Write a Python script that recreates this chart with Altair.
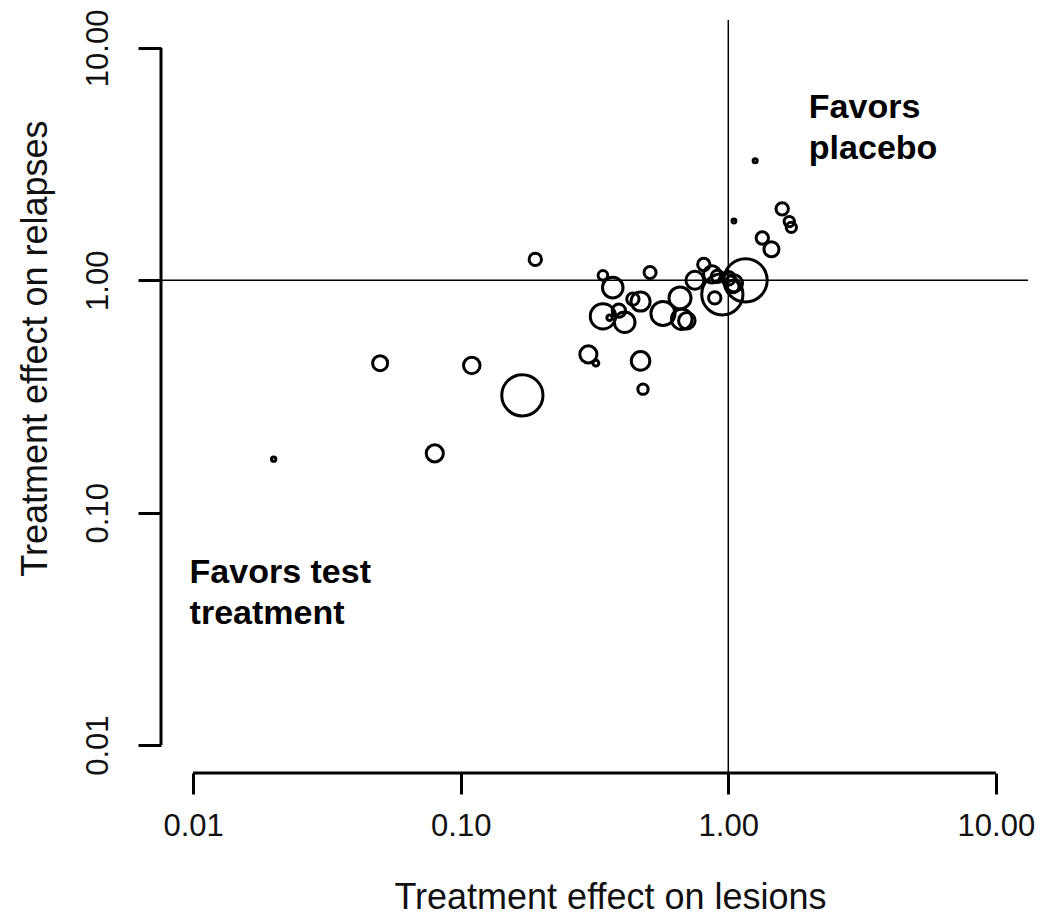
import altair as alt
import pandas as pd

# Treatment effect on lesions (x) and on relapses (y), per trial arm
lesions = [1.59, 1.69, 1.72, 1.05, 1.26, 1.34, 1.45, 0.34, 0.37, 0.51,
           0.81, 0.75, 0.87, 0.91, 1.00, 1.05, 1.04, 1.16, 0.95, 0.89,
           0.44, 0.47, 0.34, 0.36, 0.39, 0.41, 0.66, 0.57, 0.67, 0.70,
           0.30, 0.32, 0.47, 0.48, 0.19, 0.050, 0.11, 0.17, 0.080, 0.020]
relapses = [2.03, 1.79, 1.69, 1.80, 3.27, 1.52, 1.36, 1.05, 0.93, 1.08,
            1.17, 1.00, 1.06, 1.04, 1.02, 0.97, 0.94, 1.00, 0.87, 0.84,
            0.83, 0.81, 0.70, 0.69, 0.74, 0.66, 0.84, 0.72, 0.68, 0.67,
            0.48, 0.44, 0.45, 0.34, 1.23, 0.44, 0.43, 0.32, 0.18, 0.17]
weight = [360, 250, 250, 35, 40, 360, 530, 220, 1000, 340,
          360, 760, 690, 360, 450, 690, 360, 4410, 4000, 360,
          360, 860, 1510, 70, 420, 1000, 1140, 1370, 1000, 640,
          690, 80, 810, 250, 360, 530, 640, 4000, 690, 45]

tick_values = [0.01, 0.1, 1, 10]
ref_value = [1]

notes_text = ["Favors\nplacebo", "Favors test\ntreatment"]
notes_x = [2.0, 0.0097]
notes_y = [5.0, 0.05]

df = pd.DataFrame({"lesions": lesions, "relapses": relapses, "weight": weight})
ref = pd.DataFrame({"v": ref_value})
notes = pd.DataFrame({"label": notes_text, "x": notes_x, "y": notes_y})

FONT = "Liberation Sans"
W, H = 867, 753
dom = [10 ** -2.12, 10 ** 1.12]

xscale = alt.Scale(type="log", domain=dom, nice=False)
yscale = alt.Scale(type="log", domain=dom, nice=False)

xaxis = alt.Axis(values=tick_values, format=".2f", domain=False, grid=False,
                 tickSize=21, tickWidth=3, tickColor="black",
                 labelFont=FONT, labelFontSize=31, labelColor="#111111",
                 labelPadding=17, labelFlush=False, labelOverlap=False,
                 title="Treatment effect on lesions", titleFont=FONT,
                 titleFontSize=36, titleFontWeight="normal", titleColor="#111111",
                 titleX=449, titleY=124, titleAlign="center", titleBaseline="middle")
yaxis = alt.Axis(values=tick_values, format=".2f", domain=False, grid=False,
                 tickSize=23, tickWidth=3, tickColor="black",
                 labelFont=FONT, labelFontSize=31, labelColor="#111111",
                 labelAngle=270, labelAlign="center", labelBaseline="bottom",
                 labelPadding=24, labelFlush=False, labelOverlap=False,
                 title="Treatment effect on relapses", titleFont=FONT,
                 titleFontSize=36, titleFontWeight="normal", titleColor="#111111",
                 titleAngle=270, titleX=-126, titleY=328, titleAlign="center",
                 titleBaseline="middle")

points = alt.Chart(df).mark_point(
    shape="circle", filled=False, stroke="black", strokeWidth=3, opacity=1
).encode(
    x=alt.X("lesions:Q", scale=xscale, axis=xaxis),
    y=alt.Y("relapses:Q", scale=yscale, axis=yaxis),
    size=alt.Size("weight:Q", scale=alt.Scale(type="linear", domain=[0, 4000], range=[0, 1700]),
                  legend=None),
)

vline = alt.Chart(ref).mark_rule(color="black", strokeWidth=1.5).encode(x="v:Q")
hline = alt.Chart(ref).mark_rule(color="black", strokeWidth=1.5).encode(y="v:Q")

ax_df = pd.DataFrame({"lo": [tick_values[0]], "hi": [tick_values[-1]]})
xline = alt.Chart(ax_df).mark_rule(color="black", strokeWidth=3).encode(
    x="lo:Q", x2="hi:Q", y=alt.value(H))
yline = alt.Chart(ax_df).mark_rule(color="black", strokeWidth=3).encode(
    y="lo:Q", y2="hi:Q", x=alt.value(0))

text = alt.Chart(notes).mark_text(
    font=FONT, fontSize=34, fontWeight="bold", align="left", baseline="alphabetic",
    lineBreak="\n", lineHeight=41, color="black"
).encode(x="x:Q", y="y:Q", text="label:N")

chart = alt.layer(vline, hline, xline, yline, points, text).properties(
    width=W, height=H,
    autosize=alt.AutoSizeParams(type="none"),
    padding={"left": 153, "top": 12, "right": 7, "bottom": 143},
    background="white",
).configure_view(stroke=None)

chart.save("out.html", embed_options={"renderer": "svg", "actions": False})
